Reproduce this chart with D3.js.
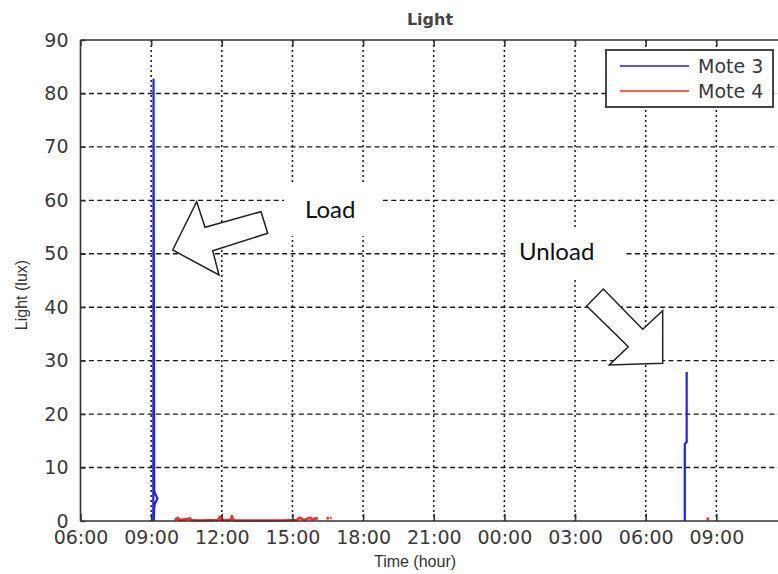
<!DOCTYPE html>
<html>
<head>
<meta charset="utf-8">
<script src="https://cdn.jsdelivr.net/npm/d3@7"></script>
<style>
  html, body { margin: 0; padding: 0; background: #fff; }
  svg { display: block; }
</style>
</head>
<body>
<svg id="chart" width="778" height="574"></svg>
<script>
// Light readings of two motes over a day and a half (hours since midnight of day 1)
const mote3Hours = [9.09, 9.10, 9.13, 9.19, 9.27, 9.20, 9.15, 9.13, 9.12, 9.11, NaN, 31.66, 31.66, 31.74, 31.74];
const mote3Lux   = [0, 82.6, 5.6, 4.9, 4.2, 3.6, 3.1, 2.4, 1.0, 0, NaN, 0, 14.4, 14.8, 27.9];

const mote4Hours = [10.0, 10.1, 10.14, 10.2, 10.6, 10.65, 10.7, 11.0, 11.85, 11.92, 11.98, 12.3, 12.4, 12.43, 12.48, 12.6, 13.5, 14.5, 15.2, 15.3, 15.4, 15.5, 15.7, 15.75, 15.85, 16.0, 16.08, NaN, 16.45, 16.5, 16.55, NaN, 16.6, 16.66, NaN, 32.6, 32.68];
const mote4Lux   = [0.2, 0.5, 0.6, 0.2, 0.4, 0.5, 0.2, 0.1, 0.2, 0.8, 0.2, 0.2, 0.3, 0.9, 0.2, 0.1, 0.1, 0.1, 0.2, 0.6, 0.4, 0.2, 0.5, 0.6, 0.3, 0.5, 0.4, NaN, 0.6, 0.5, 0.6, NaN, 0.5, 0.6, NaN, 0.2, 0.6];

const xTickHours  = [6, 9, 12, 15, 18, 21, 24, 27, 30, 33, 36];
const xTickLabels = ["06:00", "09:00", "12:00", "15:00", "18:00", "21:00", "00:00", "03:00", "06:00", "09:00", ""];
const yTicks      = [0, 10, 20, 30, 40, 50, 60, 70, 80, 90];

const seriesNames  = ["Mote 3", "Mote 4"];
const seriesColors = ["#1f1fff", "#ff2a2a"];

const svg = d3.select("#chart");
const plotL = 80.5, plotR = 787, plotT = 40, plotB = 521;

const x = d3.scaleLinear().domain([6, 36]).range([plotL, plotR]);
const y = d3.scaleLinear().domain([0, 90]).range([plotB, plotT]);

const tickFont = "'DejaVu Sans', sans-serif";
const labelFont = "'Liberation Sans', Arial, sans-serif";

// Grid: dotted verticals, dashed horizontals
const grid = svg.append("g");
grid.selectAll("line.v").data(xTickHours.slice(1, -1)).join("line")
  .attr("x1", d => x(d)).attr("x2", d => x(d))
  .attr("y1", plotT).attr("y2", plotB)
  .attr("stroke", "#1a1a1a").attr("stroke-width", 1.5)
  .attr("stroke-dasharray", "2,3");
grid.selectAll("line.h").data(yTicks.slice(1, -1)).join("line")
  .attr("x1", plotL).attr("x2", plotR)
  .attr("y1", d => y(d)).attr("y2", d => y(d))
  .attr("stroke", "#1a1a1a").attr("stroke-width", 1.4)
  .attr("stroke-dasharray", "5,3.4");

// Series
const line = d3.line()
  .defined(d => !isNaN(d[0]) && !isNaN(d[1]))
  .x(d => x(d[0])).y(d => y(d[1]));

const mote3 = mote3Hours.map((h, i) => [h, mote3Lux[i]]);
const mote4 = mote4Hours.map((h, i) => [h, mote4Lux[i]]);

svg.append("path").attr("d", line(mote4))
  .attr("fill", "none").attr("stroke", seriesColors[1]).attr("stroke-width", 2.6)
  .attr("stroke-linejoin", "round");
svg.append("path").attr("d", line(mote3))
  .attr("fill", "none").attr("stroke", seriesColors[0]).attr("stroke-width", 2.2)
  .attr("stroke-linejoin", "round");

// Annotations: text boxes and hollow block arrows
const ann = svg.append("g");
ann.append("rect").attr("x", 284).attr("y", 183).attr("width", 96).attr("height", 53).attr("fill", "#fff");
ann.append("rect").attr("x", 506).attr("y", 228).attr("width", 118).attr("height", 50).attr("fill", "#fff");

const loadArrow = [[172.7, 250], [196.7, 201.7], [205, 227.3], [261, 211.7], [267.7, 233.3], [212.7, 250.7], [219, 275]];
const unloadArrow = [[586.7, 306], [603.3, 289], [642.7, 329.3], [662.7, 310.7], [662.7, 363.3], [609.3, 365], [628.3, 346.7]];
[loadArrow, unloadArrow].forEach(pts => {
  ann.append("path")
    .attr("d", d3.line()(pts) + "Z")
    .attr("fill", "#fff").attr("stroke", "#222").attr("stroke-width", 1.5)
    .attr("stroke-linejoin", "miter");
});

ann.append("text").attr("x", 305).attr("y", 218)
  .attr("font-family", "Lato, 'Open Sans', sans-serif").attr("font-size", 24)
  .attr("fill", "#111").text("Load");
ann.append("text").attr("x", 519).attr("y", 260)
  .attr("font-family", "Lato, 'Open Sans', sans-serif").attr("font-size", 24)
  .attr("fill", "#111").text("Unload");

// Axes frame
const frame = svg.append("g").attr("stroke", "#333").attr("stroke-width", 1.6);
frame.append("line").attr("x1", plotL).attr("x2", plotL).attr("y1", plotT).attr("y2", plotB);
frame.append("line").attr("x1", plotL).attr("x2", plotR).attr("y1", plotT).attr("y2", plotT);
frame.append("line").attr("x1", plotL).attr("x2", plotR).attr("y1", plotB).attr("y2", plotB);

// Bottom axis: inward ticks and labels
const xAxis = d3.axisBottom(x)
  .tickValues(xTickHours)
  .tickFormat((d, i) => xTickLabels[i])
  .tickSizeInner(-7).tickSizeOuter(0).tickPadding(10);
const gx = svg.append("g").attr("transform", `translate(0,${plotB})`).call(xAxis);
gx.select(".domain").remove();
gx.selectAll(".tick line").attr("stroke", "#333").attr("stroke-width", 1.6);
gx.selectAll(".tick text").attr("font-family", tickFont).attr("font-size", 19).attr("fill", "#3a3a3a");

// Top ticks
const xTop = d3.axisTop(x).tickValues(xTickHours).tickFormat("").tickSizeInner(-6).tickSizeOuter(0);
const gxt = svg.append("g").attr("transform", `translate(0,${plotT})`).call(xTop);
gxt.select(".domain").remove();
gxt.selectAll(".tick line").attr("stroke", "#333").attr("stroke-width", 1.6);

// Left axis
const yAxis = d3.axisLeft(y).tickValues(yTicks).tickSizeInner(-5).tickSizeOuter(0).tickPadding(12);
const gy = svg.append("g").attr("transform", `translate(${plotL},0)`).call(yAxis);
gy.select(".domain").remove();
gy.selectAll(".tick line").attr("stroke", "#333").attr("stroke-width", 1.4);
gy.selectAll(".tick text").attr("font-family", tickFont).attr("font-size", 19).attr("fill", "#3a3a3a");

// Title and axis labels
svg.append("text").attr("x", 430).attr("y", 25).attr("text-anchor", "middle")
  .attr("font-family", tickFont).attr("font-size", 16).attr("font-weight", "bold")
  .attr("fill", "#444").text("Light");
svg.append("text").attr("x", 415).attr("y", 567).attr("text-anchor", "middle")
  .attr("font-family", labelFont).attr("font-size", 16).attr("fill", "#333").text("Time (hour)");
svg.append("text").attr("transform", "translate(27,295) rotate(-90)").attr("text-anchor", "middle")
  .attr("font-family", labelFont).attr("font-size", 16).attr("fill", "#333").text("Light (lux)");

// Legend
const lg = svg.append("g");
lg.append("rect").attr("x", 606).attr("y", 50).attr("width", 167).attr("height", 57)
  .attr("fill", "#fff").attr("stroke", "#333").attr("stroke-width", 1.8);
seriesNames.forEach((name, i) => {
  const ly = 66 + i * 25;
  lg.append("line").attr("x1", 620).attr("x2", 689).attr("y1", ly).attr("y2", ly)
    .attr("stroke", seriesColors[i]).attr("stroke-width", 1.6);
  lg.append("text").attr("x", 698).attr("y", ly + 7)
    .attr("font-family", tickFont).attr("font-size", 19).attr("fill", "#3a3a3a").text(name);
});
</script>
</body>
</html>
